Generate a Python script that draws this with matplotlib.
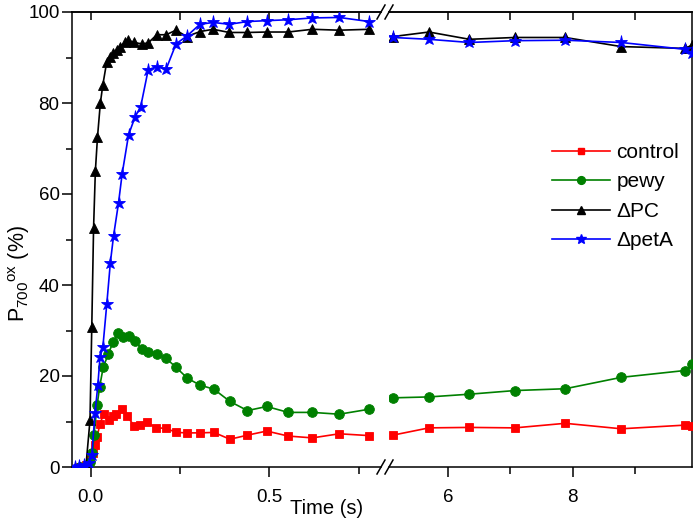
import matplotlib
matplotlib.use('Agg')
import matplotlib.pyplot as plt
from matplotlib.lines import Line2D
from matplotlib.ticker import FixedLocator

plt.rcParams['font.family'] = ['Liberation Sans', 'DejaVu Sans']
plt.rcParams['mathtext.fontset'] = 'custom'
plt.rcParams['mathtext.rm'] = 'Liberation Sans'
plt.rcParams['mathtext.it'] = 'Liberation Sans:italic'

# ---------------- data ----------------
series_names = ['control', 'pewy', '\u0394PC', '\u0394petA']
series_colors = ['#ff0000', '#008000', '#000000', '#0000ff']
series_markers = ['s', 'o', '^', '*']

# left (early) part of the broken time axis, seconds
t_control = [-0.030, -0.013, -0.002, 0.006, 0.012, 0.018, 0.026, 0.036, 0.050, 0.062,
             0.071, 0.087, 0.103, 0.121, 0.139, 0.159, 0.183, 0.211, 0.239, 0.271,
             0.306, 0.345, 0.390, 0.439, 0.493, 0.553, 0.621, 0.696, 0.780]
v_control = [0, 0.5, 1.5, 3.0, 4.8, 6.7, 9.5, 11.6, 10.4, 11.3,
             11.6, 12.7, 11.1, 9.1, 9.2, 9.8, 8.6, 8.5, 7.6, 7.5,
             7.5, 7.6, 6.1, 7.0, 7.9, 6.8, 6.4, 7.3, 6.9]

t_pewy = [-0.030, -0.013, -0.002, 0.005, 0.009, 0.018, 0.025, 0.035, 0.049, 0.063,
          0.077, 0.091, 0.108, 0.124, 0.143, 0.161, 0.185, 0.211, 0.239, 0.271,
          0.306, 0.345, 0.390, 0.439, 0.493, 0.553, 0.621, 0.696, 0.780]
v_pewy = [0, 0, 1.0, 3.0, 7.0, 13.6, 17.6, 21.9, 24.8, 27.5,
          29.4, 28.5, 28.8, 27.8, 25.9, 25.3, 24.8, 23.9, 21.9, 19.5,
          18.0, 17.1, 14.4, 12.4, 13.3, 12.0, 12.0, 11.6, 12.7]

t_dpc = [-0.030, -0.013, -0.002, 0.003, 0.008, 0.013, 0.019, 0.027, 0.034, 0.045,
         0.054, 0.063, 0.073, 0.082, 0.096, 0.105, 0.121, 0.143, 0.161, 0.185,
         0.211, 0.239, 0.269, 0.306, 0.343, 0.388, 0.439, 0.493, 0.553, 0.621,
         0.696, 0.780]
v_dpc = [0, 0.5, 10.3, 30.8, 52.5, 65.0, 72.5, 80.0, 84.0, 89.1,
         90.2, 90.9, 91.6, 92.4, 93.3, 93.8, 93.3, 93.0, 93.2, 95.0,
         95.0, 96.0, 94.6, 95.7, 96.2, 95.5, 95.5, 95.6, 95.6, 96.2,
         96.0, 96.2]

t_dpeta = [-0.044, -0.033, -0.019, -0.005, 0.003, 0.012, 0.020, 0.026, 0.034, 0.045,
           0.055, 0.064, 0.078, 0.088, 0.106, 0.124, 0.140, 0.161, 0.185, 0.211,
           0.239, 0.269, 0.306, 0.343, 0.388, 0.439, 0.493, 0.553, 0.621, 0.696,
           0.780]
v_dpeta = [0, 0.2, 0.5, 0.8, 2.6, 11.8, 18.0, 24.2, 26.3, 35.8,
           44.9, 50.8, 58.1, 64.4, 73.0, 76.9, 79.2, 87.3, 88.0, 87.4,
           93.0, 94.7, 97.3, 97.7, 97.3, 97.9, 98.1, 98.3, 98.7, 98.8,
           97.9]

# right (late) part of the broken time axis, seconds
t_late = [5.11, 5.69, 6.34, 7.07, 7.88, 8.78, 9.80, 9.92]
v_control_late = [7.0, 8.6, 8.7, 8.6, 9.6, 8.4, 9.2, 9.0]
v_pewy_late = [15.2, 15.4, 16.0, 16.8, 17.2, 19.7, 21.2, 22.6]
v_dpc_late = [94.6, 95.6, 94.0, 94.4, 94.4, 92.4, 92.0, 92.7]
v_dpeta_late = [94.4, 94.0, 93.3, 93.7, 93.8, 93.3, 91.8, 91.0]

early_t = [t_control, t_pewy, t_dpc, t_dpeta]
early_v = [v_control, v_pewy, v_dpc, v_dpeta]
late_v = [v_control_late, v_pewy_late, v_dpc_late, v_dpeta_late]

y_ticks = [0, 20, 40, 60, 80, 100]
y_minor = [10, 30, 50, 70, 90]
x1_ticks = [0.0, 0.5]
x1_labels = ['0.0', '0.5']
x1_minor = [0.25, 0.75]
x2_ticks = [6, 8]
x2_labels = ['6', '8']
x2_minor = [7, 9]

# ---------------- figure ----------------
W, H = 693, 528
fig = plt.figure(figsize=(W / 100, H / 100), dpi=100)


def fx(px):
    return px / W


def fy(py):
    return 1 - py / H


L, R1, L2, R = 72, 381, 389, 692
T, B = 12, 467
ax1 = fig.add_axes([fx(L), fy(B), fx(R1) - fx(L), fy(T) - fy(B)])
ax2 = fig.add_axes([fx(L2), fy(B), fx(R) - fx(L2), fy(T) - fy(B)])

ms_map = {'s': 6, 'o': 7, '^': 7, '*': 9.5}
for i in range(4):
    kw = dict(color=series_colors[i], marker=series_markers[i],
              markersize=ms_map[series_markers[i]], linewidth=1.2,
              markeredgewidth=0.6, zorder=3 + i)
    ax1.plot(early_t[i], early_v[i], **kw)
    ax2.plot(t_late, late_v[i], **kw)

ax1.set_xlim(-0.0524, 0.813)
ax2.set_xlim(5.047, 9.918)
for ax in (ax1, ax2):
    ax.set_ylim(0, 100)
    for s in ax.spines.values():
        s.set_linewidth(1.1)

ax1.spines['right'].set_visible(False)
ax2.spines['left'].set_visible(False)

# y axis
ax1.set_yticks(y_ticks)
ax1.yaxis.set_minor_locator(FixedLocator(y_minor))
ax1.tick_params(axis='y', which='major', direction='out', length=7, width=1.1,
                labelsize=13.5, pad=2, right=False)
ax1.tick_params(axis='y', which='minor', direction='out', length=4.5, width=1.1, right=False)
ax2.tick_params(axis='y', which='both', left=False, right=False, labelleft=False)

# x axes
for ax, tk, lb, mn in ((ax1, x1_ticks, x1_labels, x1_minor),
                       (ax2, x2_ticks, x2_labels, x2_minor)):
    ax.set_xticks(tk)
    ax.set_xticklabels(lb)
    ax.xaxis.set_minor_locator(FixedLocator(mn))
    ax.tick_params(axis='x', which='major', direction='out', length=7, width=1.1,
                   labelsize=13.5, pad=9, top=False)
    ax.tick_params(axis='x', which='minor', direction='out', length=5, width=1.1, top=False)
    sec = ax.secondary_xaxis('top')
    sec.set_xticks(tk)
    sec.xaxis.set_minor_locator(FixedLocator(mn))
    sec.tick_params(axis='x', which='both', direction='in', length=6, width=1.1,
                    labeltop=False)
    sec.spines['top'].set_linewidth(1.1)

ax1.set_ylabel(r'$\mathregular{P_{700}{}^{ox}}$ (%)', fontsize=15.5, va='center')
ax1.yaxis.set_label_coords(-0.17, 0.426)
ax1.set_xlabel('Time (s)', fontsize=14.5, va='center')
ax1.xaxis.set_label_coords((327 - L) / (R1 - L), (B - 509) / (B - T))

# break marks
for xb in (R1, L2):
    for yb in (T, B):
        fig.add_artist(Line2D([fx(xb - 4), fx(xb + 4)], [fy(yb + 7), fy(yb - 7)],
                              color='black', linewidth=1.1))

handles = [Line2D([], [], color=series_colors[i], marker=series_markers[i],
                  markersize=ms_map[series_markers[i]] * 0.8, linewidth=1.2)
           for i in range(4)]
ax2.legend(handles, series_names, loc='upper left',
           bbox_to_anchor=(fx(552), fy(143)), bbox_transform=fig.transFigure,
           frameon=False, fontsize=15, handlelength=2.8, handletextpad=0.3,
           labelspacing=0.5, borderaxespad=0, borderpad=0)

fig.savefig('out.png', dpi=100)
